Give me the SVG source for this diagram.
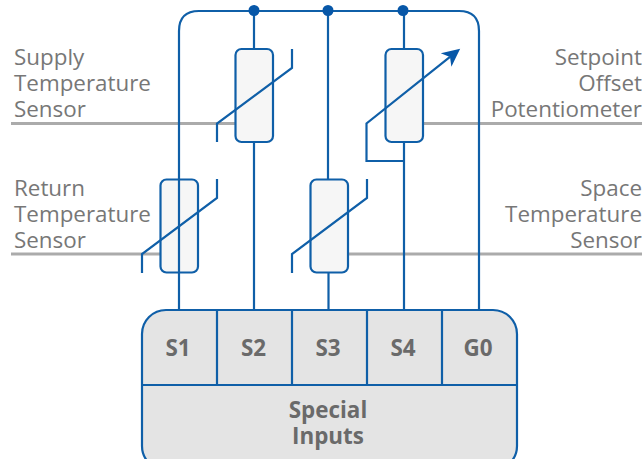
<svg xmlns="http://www.w3.org/2000/svg" width="642" height="459" viewBox="0 0 642 459">
<style>
.w{fill:none;stroke:#0f5fa8;stroke-width:2.2}
.g{fill:none;stroke:#ababab;stroke-width:3}
.r{fill:#f6f6f6;stroke:#0f5fa8;stroke-width:2.2}
.d{fill:#0757a8}
.t{font-family:"Open Sans",sans-serif;font-size:22.4px;fill:#777}
.b{font-family:"Open Sans",sans-serif;font-size:22.4px;font-weight:700;fill:#6a6a6a;text-anchor:middle}
.e{text-anchor:end}
</style>
<defs><marker id="a" markerUnits="userSpaceOnUse" markerWidth="24" markerHeight="20" refX="5" refY="10" orient="auto"><path d="M0 1.500L18 10L0 18.500L5 10Z" fill="#0757a8"/></marker></defs>
<g id="leaders">
<path class="g" d="M11 123.500H235M423 123.500H642M11 254H160M348 254H642"/>
</g>
<g id="connectors">
<path class="w" d="M179 310V31Q179 11 199 11H459Q479 11 479 31V310"/>
<path class="w" d="M254 11V49M254 142V310M328 11V179M404 11V49M404 142V310M328.500 272V310"/>
</g>
<g id="dots"><circle class="d" cx="254" cy="10.500" r="5.500"/><circle class="d" cx="328" cy="10.500" r="5.500"/><circle class="d" cx="403" cy="10.500" r="5.500"/></g>
<g id="r-supply"><rect class="r" x="235.500" y="49" width="37.500" height="93" rx="6"/><path class="w" d="M217 142V123.500L292 68V49"/></g>
<g id="r-return"><rect class="r" x="160.500" y="179.500" width="37.500" height="93" rx="6"/><path class="w" d="M179 179V272"/><path class="w" d="M142 273V254L217 198V179"/></g>
<g id="r-space"><rect class="r" x="310.500" y="179.500" width="37.500" height="93" rx="6"/><path class="w" d="M292 273V254L367 198V179"/></g>
<g id="r-setpoint"><rect class="r" x="385.500" y="49" width="37.500" height="93" rx="6"/><path class="w" d="M404 161H366.500V123.500L450 56.900" marker-end="url(#a)"/></g>
<g id="inputs">
<rect x="142" y="310" width="375" height="160" rx="24" fill="#e4e4e4" stroke="#0f5fa8" stroke-width="2.200"/>
<path class="w" d="M217 310V385M292 310V385M367 310V385M442 310V385M142 385H517"/>
<text class="b" x="178" y="356">S1</text><text class="b" x="253.500" y="356">S2</text><text class="b" x="328" y="356">S3</text><text class="b" x="403" y="356">S4</text><text class="b" x="478" y="356">G0</text>
<text class="b" x="328" y="418">Special</text><text class="b" x="328" y="444">Inputs</text>
</g>
<g id="labels">
<text class="t" x="14" y="65">Supply</text><text class="t" x="14" y="91">Temperature</text><text class="t" x="14" y="117">Sensor</text>
<text class="t" x="14" y="196">Return</text><text class="t" x="14" y="222">Temperature</text><text class="t" x="14" y="248">Sensor</text>
<text class="t e" x="642" y="65">Setpoint</text><text class="t e" x="642" y="91">Offset</text><text class="t e" x="642" y="117">Potentiometer</text>
<text class="t e" x="642" y="196">Space</text><text class="t e" x="642" y="222">Temperature</text><text class="t e" x="642" y="248">Sensor</text>
</g>
</svg>
